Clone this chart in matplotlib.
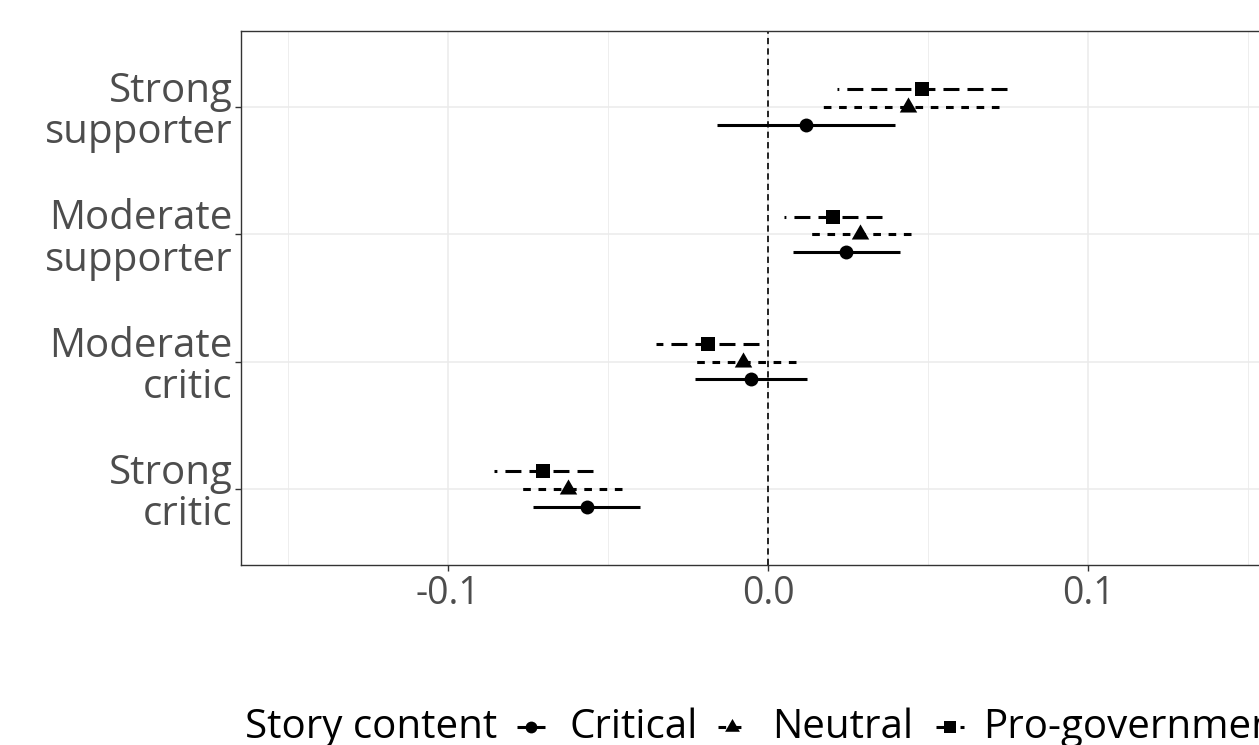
import matplotlib
matplotlib.use('Agg')
import matplotlib.pyplot as plt
from matplotlib.lines import Line2D

# data (estimates, CI lower / point / upper)
groups = ['Strong\ncritic', 'Moderate\ncritic', 'Moderate\nsupporter', 'Strong\nsupporter']
series = ['Critical', 'Neutral', 'Pro-government']

critical_est = [-0.0567, -0.0053, 0.0244, 0.0119]
critical_lo = [-0.0733, -0.0228, 0.0079, -0.0158]
critical_hi = [-0.0400, 0.0121, 0.0411, 0.0398]

neutral_est = [-0.0624, -0.0079, 0.0287, 0.0436]
neutral_lo = [-0.0783, -0.0238, 0.0125, 0.0149]
neutral_hi = [-0.0457, 0.0088, 0.0448, 0.0721]

progov_est = [-0.0702, -0.0188, 0.0202, 0.0482]
progov_lo = [-0.0856, -0.0351, 0.0049, 0.0216]
progov_hi = [-0.0546, -0.0027, 0.0357, 0.0747]

xticks = [-0.1, 0.0, 0.1]
xticklabels = ['-0.1', '0.0', '0.1']

plt.rcParams['font.family'] = ['Open Sans', 'DejaVu Sans']
plt.rcParams['lines.scale_dashes'] = False

W, H = 1259, 745
fig = plt.figure(figsize=(W / 100, H / 100), dpi=100)
# panel runs past the right edge, like the cropped reference
ax = fig.add_axes([241 / W, 180 / H, 1054 / W, 534 / H])

tri = [(0, 1.155), (-1, -0.577), (1, -0.577)]
styles = {
    'Critical': dict(ls='-', marker='o', ms=10, off=-0.14),
    'Neutral': dict(ls=(0, (5.5, 5.5)), marker=tri, ms=14.5, off=0.0),
    'Pro-government': dict(ls=(0, (11.5, 5.8)), marker='s', ms=9.6, off=0.14),
}
data = {
    'Critical': (critical_lo, critical_est, critical_hi),
    'Neutral': (neutral_lo, neutral_est, neutral_hi),
    'Pro-government': (progov_lo, progov_est, progov_hi),
}

for name in series:
    st = styles[name]
    lo, est, hi = data[name]
    for i in range(len(groups)):
        y = i + 1 + st['off']
        # drawn right-to-left so the dash pattern starts at the upper end
        ax.plot([hi[i], lo[i]], [y, y], color='black', lw=2.2, ls=st['ls'],
                solid_capstyle='butt', dash_capstyle='butt', zorder=3)
        ax.plot(est[i], y, marker=st['marker'], ms=st['ms'], color='black',
                mec='black', mew=0, ls='none', zorder=4)

ax.axvline(0, color='black', lw=1.2, ls=(0, (4.5, 3)), zorder=2)

ax.set_xlim(-0.1647, 0.1647)
ax.set_ylim(0.4, 4.6)
ax.set_xticks(xticks)
ax.set_xticklabels(xticklabels)
ax.set_xticks([-0.15, -0.05, 0.05, 0.15], minor=True)
ax.set_yticks(range(1, len(groups) + 1))
ax.set_yticklabels(groups, linespacing=1.02, multialignment='right')

ax.grid(which='major', color='#EBEBEB', lw=1.1, zorder=0)
ax.grid(which='minor', axis='x', color='#EBEBEB', lw=0.6, zorder=0)
ax.set_axisbelow(True)
for s in ax.spines.values():
    s.set_color('#333333')
    s.set_linewidth(1.0)
ax.tick_params(which='major', length=4, width=1.0, color='#333333',
               labelcolor='#4D4D4D', pad=2)
ax.tick_params(axis='x', labelsize=27, pad=3)
ax.tick_params(axis='y', labelsize=29)
ax.tick_params(which='minor', length=0)

# legend along the bottom, title inline
base = 7.3 / H
fig.text(245 / W, base, 'Story content', fontsize=29, color='black', va='baseline')
keys = [('Critical', 517, 570), ('Neutral', 718, 772), ('Pro-government', 936, 983)]
for name, kx, tx in keys:
    st = styles[name]
    ky = (745 - 727) / H
    fig.add_artist(Line2D([kx / W, (kx + 28) / W], [ky, ky], transform=fig.transFigure,
                          color='black', lw=2.2, ls=st['ls'], dash_capstyle='butt',
                          solid_capstyle='butt'))
    fig.add_artist(Line2D([(kx + 14) / W], [ky], transform=fig.transFigure,
                          marker=st['marker'], ms=st['ms'] * 0.85, color='black',
                          mew=0, ls='none'))
    fig.text(tx / W, base, name, fontsize=29, color='black', va='baseline')

fig.savefig('out.png', dpi=100)
